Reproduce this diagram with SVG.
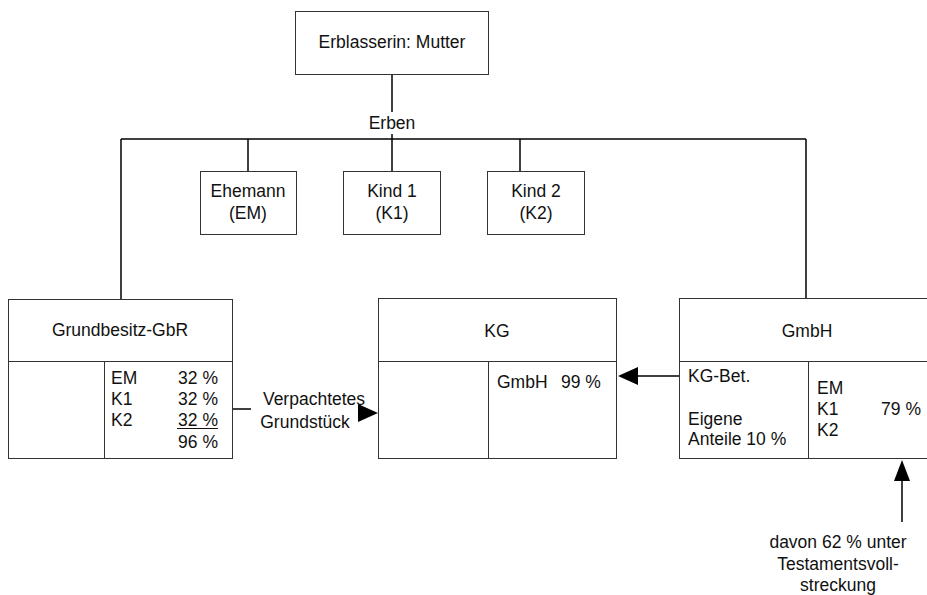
<svg xmlns="http://www.w3.org/2000/svg" width="927" height="595" viewBox="0 0 927 595">
  <style>
    text { font-family: "Liberation Sans", Arial, sans-serif; font-size: 17.5px; fill: #111; }
    .c { text-anchor: middle; }
    .r { text-anchor: end; }
    .box { fill: #fff; stroke: #333; stroke-width: 1; }
    .div { stroke: #333; stroke-width: 1; fill: none; }
    .link { stroke: #000; stroke-width: 1.5; fill: none; }
    .head { fill: #000; }
  </style>
  <rect width="927" height="595" fill="#fff"/>

  <g id="connectors">
    <!-- testator to heirs -->
    <line class="link" x1="392" y1="74" x2="392" y2="112"/>
    <line class="link" x1="392" y1="134" x2="392" y2="171"/>
    <line class="link" x1="121" y1="139" x2="806" y2="139"/>
    <line class="link" x1="248" y1="139" x2="248" y2="171"/>
    <line class="link" x1="520" y1="139" x2="520" y2="171"/>
    <line class="link" x1="121" y1="139" x2="121" y2="299"/>
    <line class="link" x1="806" y1="139" x2="806" y2="298"/>
    <!-- leased property -->
    <line class="link" x1="232" y1="409" x2="251" y2="409"/>
    <path class="head" d="M358,404 L378,413 L358,422 Z"/>
    <!-- GmbH stake in KG -->
    <line class="link" x1="680" y1="376" x2="638" y2="376"/>
    <path class="head" d="M638,367 L618,376 L638,385 Z"/>
    <!-- executorship note -->
    <line class="link" x1="902" y1="522" x2="902" y2="480"/>
    <path class="head" d="M894,481 L902,460 L910,481 Z"/>
    <text class="c" x="392" y="129">Erben</text>
    <text class="c" x="314" y="405">Verpachtetes</text>
    <text class="c" x="305" y="428">Grundstück</text>
    <text class="c" x="838" y="548">davon 62 % unter</text>
    <text class="c" x="838" y="570">Testamentsvoll-</text>
    <text class="c" x="838" y="591">streckung</text>
  </g>

  <g id="erblasserin">
    <rect class="box" x="295.5" y="11.5" width="193" height="63"/>
    <text class="c" x="392" y="48">Erblasserin: Mutter</text>
  </g>

  <g id="ehemann">
    <rect class="box" x="200.5" y="171.5" width="96" height="63"/>
    <text class="c" x="248" y="197">Ehemann</text>
    <text class="c" x="248" y="219">(EM)</text>
  </g>

  <g id="kind1">
    <rect class="box" x="343.5" y="171.5" width="97" height="63"/>
    <text class="c" x="392" y="197">Kind 1</text>
    <text class="c" x="392" y="219">(K1)</text>
  </g>

  <g id="kind2">
    <rect class="box" x="487.5" y="171.5" width="97" height="63"/>
    <text class="c" x="536" y="197">Kind 2</text>
    <text class="c" x="536" y="219">(K2)</text>
  </g>

  <g id="gbr">
    <rect class="box" x="8.5" y="299.5" width="224" height="159"/>
    <line class="div" x1="8.5" y1="361.5" x2="232.5" y2="361.5"/>
    <line class="div" x1="104.5" y1="361.5" x2="104.5" y2="458.5"/>
    <text class="c" x="120" y="336">Grundbesitz-GbR</text>
    <text x="111" y="384">EM</text>
    <text x="111" y="405">K1</text>
    <text x="111" y="426">K2</text>
    <text class="r" x="218" y="384">32 %</text>
    <text class="r" x="218" y="405">32 %</text>
    <text class="r" x="218" y="426">32 %</text>
    <line x1="177" y1="428.5" x2="218" y2="428.5" stroke="#111" stroke-width="1"/>
    <text class="r" x="218" y="448">96 %</text>
  </g>

  <g id="kg">
    <rect class="box" x="378.5" y="298.5" width="238" height="160"/>
    <line class="div" x1="378.5" y1="361.5" x2="616.5" y2="361.5"/>
    <line class="div" x1="488.5" y1="361.5" x2="488.5" y2="458.5"/>
    <text class="c" x="497" y="337">KG</text>
    <text x="497" y="388">GmbH</text>
    <text x="561" y="388">99 %</text>
  </g>

  <g id="gmbh">
    <rect class="box" x="679.5" y="298.5" width="256" height="160"/>
    <line class="div" x1="679.5" y1="361.5" x2="935" y2="361.5"/>
    <line class="div" x1="808.5" y1="361.5" x2="808.5" y2="458.5"/>
    <text class="c" x="807" y="337">GmbH</text>
    <text x="688" y="382">KG-Bet.</text>
    <text x="688" y="425">Eigene</text>
    <text x="688" y="445">Anteile 10 %</text>
    <text x="817" y="394">EM</text>
    <text x="817" y="415">K1</text>
    <text x="817" y="436">K2</text>
    <text class="r" x="921" y="415">79 %</text>
  </g>
</svg>
